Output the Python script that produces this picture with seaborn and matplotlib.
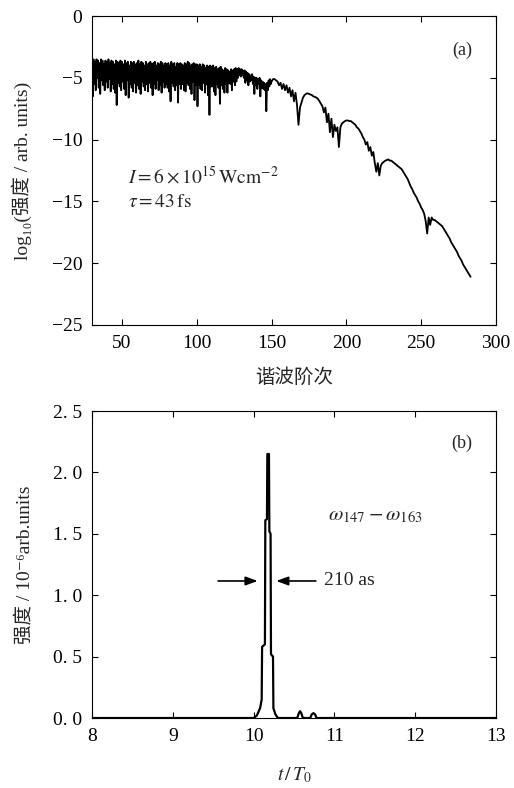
import matplotlib
matplotlib.use("Agg")
import matplotlib.pyplot as plt
import seaborn as sns
import pandas as pd

# harmonic spectrum, panel (a)
# orders 30..149: noisy plateau, upper and lower excursions per order
band_orders = list(range(30, 150))
band_hi = [
    -3.6, -3.5, -3.7, -3.5, -3.6, -3.8, -3.5, -3.6, -3.9, -3.6,
    -3.7, -3.5, -3.8, -3.6, -3.7, -3.9, -3.6, -3.7, -3.8, -3.6,
    -3.7, -3.9, -3.6, -3.8, -3.7, -4.0, -3.7, -3.8, -3.7, -3.9,
    -3.8, -3.6, -3.9, -3.7, -3.8, -4.0, -3.7, -3.9, -3.8, -3.7,
    -3.9, -3.8, -3.7, -4.0, -3.8, -3.9, -3.7, -3.8, -4.0, -3.8,
    -3.9, -3.8, -4.0, -3.7, -3.9, -3.8, -4.1, -3.8, -3.9, -3.8,
    -3.9, -4.0, -3.8, -3.9, -3.7, -3.8, -4.0, -3.9, -3.8, -3.9,
    -3.9, -4.0, -3.9, -4.1, -3.9, -4.0, -4.2, -4.0, -4.1, -4.0,
    -4.1, -4.0, -4.2, -4.1, -4.3, -4.2, -4.1, -4.3, -4.4, -4.2,
    -4.3, -4.4, -4.5, -4.3, -4.4, -4.3, -4.2, -4.3, -4.2, -4.3,
    -4.3, -4.4, -4.4, -4.5, -4.6, -4.7, -4.8, -4.7, -4.9, -5.0,
    -5.0, -5.1, -5.0, -5.2, -5.3, -5.4, -5.5, -5.4, -5.2, -5.1,
]
band_lo = [
    -6.5, -5.5, -6.0, -5.0, -5.8, -6.3, -5.2, -5.6, -6.0, -5.3,
    -5.8, -5.1, -6.1, -5.5, -5.9, -6.2, -7.2, -5.4, -5.7, -6.0,
    -5.3, -5.9, -6.4, -5.2, -6.6, -5.5, -5.8, -6.1, -5.4, -6.2,
    -5.6, -5.9, -6.3, -5.3, -5.7, -6.0, -5.5, -6.1, -5.4, -5.8,
    -6.4, -5.5, -5.9, -5.2, -6.0, -5.6, -6.2, -5.3, -5.8, -5.5,
    -5.8, -6.1, -6.9, -5.4, -5.7, -6.0, -5.6, -7.0, -5.5, -5.9,
    -5.5, -6.0, -6.1, -5.4, -5.6, -5.9, -6.3, -5.3, -6.8, -5.6,
    -7.3, -5.6, -5.9, -6.0, -5.4, -6.2, -5.5, -6.4, -8.0, -5.7,
    -5.7, -6.1, -6.4, -5.5, -5.8, -7.1, -5.6, -5.9, -6.2, -5.5,
    -6.2, -5.4, -5.5, -6.0, -5.3, -5.6, -5.3, -5.0, -4.8, -4.9,
    -4.8, -5.0, -5.4, -5.2, -5.6, -5.3, -5.2, -5.5, -6.3, -5.6,
    -5.9, -5.5, -6.5, -5.8, -5.9, -6.0, -7.7, -6.0, -5.7, -5.5,
]
# orders 150..283: decaying cut-off region
tail_orders = list(range(150, 284))
tail_vals = [
    -5.3, -5.1, -5.1, -5.2, -5.3, -5.6, -5.4, -5.9, -5.5, -6.0,
    -5.6, -6.2, -5.8, -6.5, -6.0, -6.9, -6.2, -7.2, -8.8, -7.4,
    -7.0, -6.6, -6.4, -6.3, -6.25, -6.3, -6.35, -6.4, -6.5, -6.55,
    -6.6, -6.7, -6.9, -7.1, -7.3, -7.8, -7.4, -8.6, -7.9, -9.4,
    -8.3, -9.8, -8.8, -9.3, -9.0, -10.6, -9.0, -8.7, -8.6, -8.5,
    -8.45, -8.45, -8.5, -8.5, -8.6, -8.7, -8.8, -9.0, -9.1, -9.3,
    -9.5, -9.8, -10.0, -10.4, -10.2, -10.9, -10.6, -11.3, -11.0, -11.9,
    -12.6, -11.9, -12.9, -12.1, -11.9, -11.8, -11.7, -11.65, -11.6, -11.7,
    -11.7, -11.8, -11.9, -12.0, -12.1, -12.2, -12.3, -12.4, -12.6, -12.8,
    -13.0, -13.2, -13.5, -13.8, -14.0, -14.3, -14.5, -14.7, -15.0, -15.2,
    -15.5, -15.7, -16.0, -16.6, -17.6, -16.3, -16.9, -16.3, -16.5, -16.5,
    -16.6, -16.7, -16.8, -16.9, -17.0, -17.2, -17.4, -17.6, -17.8, -18.0,
    -18.3, -18.5, -18.7, -18.9, -19.1, -19.4, -19.6, -19.8, -20.1, -20.3,
    -20.5, -20.7, -20.9, -21.1,
]

# attosecond pulse, panel (b)
t_over_T0 = [8.0, 10.0, 10.04, 10.08, 10.10, 10.105, 10.14, 10.145, 10.165,
             10.17, 10.19, 10.195, 10.21, 10.215, 10.24, 10.245, 10.27, 10.30,
             10.54, 10.56, 10.575, 10.59, 10.61, 10.70, 10.72, 10.74, 10.76,
             10.78, 13.0]
pulse = [0.0, 0.0, 0.02, 0.08, 0.15, 0.58, 0.60, 1.61, 1.62,
         2.15, 2.15, 1.52, 1.50, 0.52, 0.50, 0.08, 0.03, 0.0,
         0.0, 0.04, 0.055, 0.04, 0.0, 0.0, 0.03, 0.04, 0.03,
         0.0, 0.0]

xticks_a = [50, 100, 150, 200, 250, 300]
yticks_a = [0, -5, -10, -15, -20, -25]
xticks_b = [8, 9, 10, 11, 12, 13]
yticks_b = [0.0, 0.5, 1.0, 1.5, 2.0, 2.5]

sns.set_theme(style="ticks")
plt.rcParams["font.family"] = ["Liberation Serif", "Noto Sans CJK SC", "DejaVu Serif"]
plt.rcParams["mathtext.fontset"] = "stix"
plt.rcParams["axes.linewidth"] = 0.8

fig = plt.figure(figsize=(5.14, 7.88), dpi=100)
ax1 = fig.add_axes([0.179, 0.5876, 0.786, 0.392])
ax2 = fig.add_axes([0.179, 0.0888, 0.786, 0.3896])

# interleave the plateau highs/lows, then append the smooth tail
xs, ys = [], []
for o, hi, lo in zip(band_orders, band_hi, band_lo):
    xs += [o, o + 0.5]
    ys += [hi, lo]
xs += tail_orders
ys += tail_vals
df_a = pd.DataFrame({"order": xs, "val": ys})
sns.lineplot(data=df_a, x="order", y="val", ax=ax1, color="black",
             linewidth=1.3, estimator=None, sort=False)
df_b = pd.DataFrame({"t": t_over_T0, "I": pulse})
sns.lineplot(data=df_b, x="t", y="I", ax=ax2, color="black",
             linewidth=1.6, estimator=None, sort=False)

for ax in (ax1, ax2):
    ax.tick_params(direction="in", length=4.5, width=0.8, top=True,
                   right=True, labelsize=14, pad=7, colors="black")
    for s in ax.spines.values():
        s.set_color("black")

ax1.set_xlim(30, 300)
ax1.set_ylim(-25, 0)
ax1.set_xticks(xticks_a)
ax1.set_yticks(yticks_a)
ax1.set_yticklabels([f"{v}".replace("-", "\u2212") for v in yticks_a])
ax1.set_xlabel("谐波阶次", fontsize=14, labelpad=12)
ax1.set_ylabel("log\u2081\u2080(强度 / arb. units)", fontsize=14, labelpad=14)
ax1.text(0.916, 0.89, "(a)", transform=ax1.transAxes, fontsize=13,
         ha="center", va="center")
ax1.text(0.089, 0.479, r"$I=6\times10^{15}\,\mathrm{Wcm}^{-2}$",
         transform=ax1.transAxes, fontsize=14, ha="left", va="center")
ax1.text(0.089, 0.398, r"$\tau=43\,\mathrm{fs}$",
         transform=ax1.transAxes, fontsize=14, ha="left", va="center")

ax2.set_xlim(8, 13)
ax2.set_ylim(0, 2.5)
ax2.set_xticks(xticks_b)
ax2.set_yticks(yticks_b)
ax2.set_yticklabels([f"{v:.1f}".replace(".", ". ") for v in yticks_b])
ax2.set_xlabel(r"$t\,/\,T_0$", fontsize=14, labelpad=15)
ax2.set_ylabel("强度 / 10\u207b\u2076arb.units", fontsize=14, labelpad=14)
ax2.text(0.916, 0.896, "(b)", transform=ax2.transAxes, fontsize=13,
         ha="center", va="center")
ax2.text(11.51, 1.645, r"$\omega_{147}-\omega_{163}$", fontsize=15,
         ha="center", va="center")
arrow = dict(arrowstyle="-|>,head_length=0.6,head_width=0.22",
             color="black", lw=1.2, shrinkA=0, shrinkB=0)
ax2.annotate("", xy=(10.05, 1.116), xytext=(9.56, 1.116), arrowprops=arrow)
ax2.annotate("", xy=(10.28, 1.116), xytext=(10.77, 1.116), arrowprops=arrow)
ax2.text(10.87, 1.116, "210 as", fontsize=14, ha="left", va="center")

fig.savefig("out.png", dpi=100)
